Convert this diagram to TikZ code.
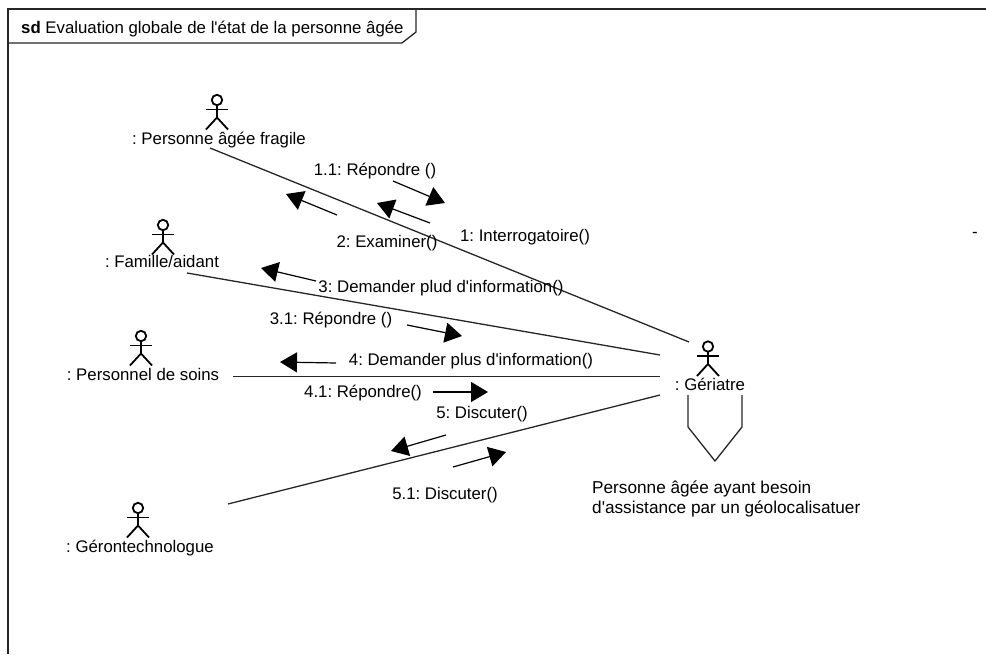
\documentclass[tikz,border=0pt]{standalone}
\usepackage{fontspec}
\setmainfont{Liberation Sans}
\usetikzlibrary{arrows.meta}
\tikzset{actor/.style ={
        minimum width=26pt,
        minimum height=40pt,
        inner sep=0pt,
        outer sep=0pt,
        path picture={
            \begin{scope}[shift={(path picture bounding box.center)},line width=1.8pt]
                \draw (0,-12.5) circle (5.2pt);
                \draw (-11,-3) -- (11,-3);
                \draw (0,-7.3) -- (0,5);
                \draw (-11,17) -- (0,5) -- (11,17);
            \end{scope}
        },
    },
    lbl/.style ={
        font=\fontsize{16.8pt}{20pt}\selectfont\frenchspacing,
        inner sep=0pt,
        text height=13pt,
        text depth=3pt,
    },
    notelbl/.style ={
        lbl,
        anchor=west,
        font=\fontsize{17.2pt}{20pt}\selectfont\frenchspacing,
    },
    link/.style ={
        draw,
        line width=1.3pt,
        black!85,
    },
    msg/.style ={
        draw,
        line width=1.2pt,
        -{Triangle[length=17pt,width=20pt]},
    }}
\begin{document}
\begin{tikzpicture}[x=1pt,y=-1pt]
	\useasboundingbox (0,0) rectangle (986,654);
	% frame
	\draw[line width=1.3pt,black!85] (8,654) -- (8,9) -- (986,9);
	\draw[line width=1.3pt,black!85] (8,43) -- (402,43) -- (416,32) -- (416,9);
	\node[lbl,anchor=west] (title) at (21,28) {\textbf{sd} Evaluation globale de l\textquotesingle état de la personne âgée};
	% actors
	\node[actor] (fragile) at (217,112.5) {};
	\node[lbl] (fragilelbl) at (219,139) {: Personne âgée fragile};
	\node[actor] (famille) at (163,237.5) {};
	\node[lbl] (famillelbl) at (162,262) {: Famille/aidant};
	\node[actor] (soins) at (141,348.5) {};
	\node[lbl] (soinslbl) at (143,375) {: Personnel de soins};
	\node[actor] (techno) at (138,520.5) {};
	\node[lbl] (technolbl) at (140,547) {: Gérontechnologue};
	\node[actor] (geriatre) at (708,359) {};
	\node[lbl] (geriatrelbl) at (710,385) {: Gériatre};
	% links
	\draw[link] ([shift={(-9,9)}]fragilelbl.center) -- ([shift={(-19,-17)}]geriatre.center);
	\draw[link] ([shift={(25,11)}]famillelbl.center) -- ([shift={(-48,-4)}]geriatre.center);
	\draw[link] ([shift={(90,1.5)}]soinslbl.center) -- ([shift={(-48,17.5)}]geriatre.center);
	\draw[link] ([shift={(90,-16.5)}]techno.center) -- ([shift={(-48,36)}]geriatre.center);
	\draw[link] ([shift={(-22,10)}]geriatrelbl.center) -- ++(0,32) -- ++(27,34) -- ++(27,-34) -- ++(0,-32);
	% messages
	\node[lbl] (m11) at (375,170) {1.1: Répondre ()};
	\node[lbl] (m1) at (525,236) {1: Interrogatoire()};
	\node[lbl] (m2) at (387,242) {2: Examiner()};
	\node[lbl] (m3) at (441,287) {3: Demander plud d\textquotesingle information()};
	\node[lbl] (m31) at (331,319) {3.1: Répondre ()};
	\node[lbl] (m4) at (471,360) {4: Demander plus d\textquotesingle information()};
	\node[lbl] (m41) at (363,392) {4.1: Répondre()};
	\node[lbl] (m5) at (482,413) {5: Discuter()};
	\node[lbl] (m51) at (445,494) {5.1: Discuter()};
	\draw[msg] (393,181) coordinate (m11a) -- (445,203) coordinate (m11b);
	\draw[msg] (430,223) coordinate (m1a) -- (377,203) coordinate (m1b);
	\draw[msg] (337,215) coordinate (m2a) -- (286,194) coordinate (m2b);
	\draw[msg] (316,281) coordinate (m3a) -- (261,268) coordinate (m3b);
	\draw[msg] (407,325) coordinate (m31a) -- (462,336) coordinate (m31b);
	\draw[msg] (336,363) coordinate (m4a) -- (280,362) coordinate (m4b);
	\draw[msg] (433,392) coordinate (m41a) -- (488,392) coordinate (m41b);
	\draw[msg] (446,435) coordinate (m5a) -- (391,451) coordinate (m5b);
	\draw[msg] (453,467) coordinate (m51a) -- (506,452) coordinate (m51b);
	% note
	\node[notelbl] (note1) at (592,488) {Personne âgée ayant besoin};
	\node[notelbl] (note2) at (592,508) {d\textquotesingle assistance par un géolocalisatuer};
	\node[lbl] (dash) at (975,232) {-};
\end{tikzpicture}
\end{document}
